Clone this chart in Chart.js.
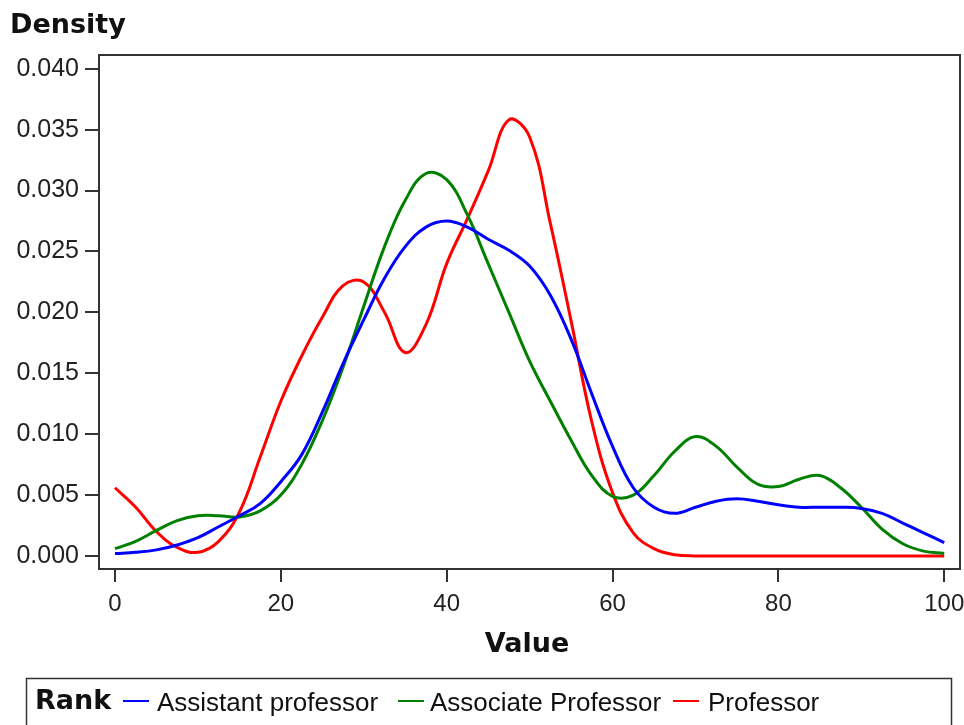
<!DOCTYPE html>
<html>
<head>
<meta charset="utf-8">
<script src="https://cdn.jsdelivr.net/npm/chart.js@4.4.0/dist/chart.umd.min.js"></script>
<style>
  html, body { margin: 0; padding: 0; background: #fff; }
  #wrap { width: 964px; height: 725px; }
</style>
</head>
<body>
<div id="wrap"><canvas id="c" width="964" height="725"></canvas></div>
<script>
// density curves, one value per x step of 2.5
const xValues = [0, 2.5, 5, 7.5, 10, 12.5, 15, 17.5, 20, 22.5, 25, 27.5, 30, 32.5, 35, 37.5, 40,
  42.5, 45, 47.5, 50, 52.5, 55, 57.5, 60, 62.5, 65, 67.5, 70, 72.5, 75, 77.5, 80, 82.5, 85, 87.5,
  90, 92.5, 95, 97.5, 100];

const assistant = [0.0002, 0.0003, 0.0005, 0.0009, 0.0015, 0.0024, 0.0033, 0.0043, 0.0061, 0.0083,
  0.0118, 0.0158, 0.0194, 0.0228, 0.0254, 0.0270, 0.0275, 0.0270, 0.0260, 0.0251, 0.0238, 0.0214,
  0.0178, 0.0133, 0.0090, 0.0056, 0.0040, 0.0035, 0.0040, 0.0045, 0.0047, 0.0045, 0.0042, 0.0040,
  0.0040, 0.0040, 0.0039, 0.0035, 0.0027, 0.0019, 0.0011];

const associate = [0.0006, 0.0012, 0.0021, 0.0029, 0.0033, 0.0033, 0.0032, 0.0037, 0.0050, 0.0075,
  0.0111, 0.0155, 0.0205, 0.0254, 0.0292, 0.0314, 0.0309, 0.0280, 0.0240, 0.0200, 0.0160, 0.0127,
  0.0095, 0.0066, 0.0049, 0.0050, 0.0066, 0.0086, 0.0098, 0.0090, 0.0073, 0.0059, 0.0057, 0.0063,
  0.0066, 0.0056, 0.0040, 0.0022, 0.0010, 0.0004, 0.0002];

const professor = [0.0056, 0.0040, 0.0020, 0.0007, 0.0003, 0.0012, 0.0036, 0.0081, 0.0127, 0.0164,
  0.0196, 0.0222, 0.0225, 0.0200, 0.0167, 0.0190, 0.0240, 0.0277, 0.0316, 0.0358, 0.0344, 0.0273,
  0.0193, 0.0110, 0.0052, 0.0019, 0.0006, 0.0001, 0, 0, 0, 0, 0, 0, 0, 0, 0, 0, 0, 0, 0];

const seriesNames = ['Assistant professor', 'Associate Professor', 'Professor'];
const xTicks = [0, 20, 40, 60, 80, 100];
const yTicks = [0, 0.005, 0.010, 0.015, 0.020, 0.025, 0.030, 0.035, 0.040];

const toPoints = ys => xValues.map((x, i) => ({ x: x, y: ys[i] }));

// frame, axis titles and the inline "Rank" legend
const decorations = {
  id: 'decorations',
  afterDraw(chart) {
    const ctx = chart.ctx;
    const a = chart.chartArea;
    ctx.save();
    ctx.strokeStyle = '#333';
    ctx.lineWidth = 2;
    ctx.strokeRect(a.left, a.top, a.right - a.left, a.bottom - a.top);

    ctx.fillStyle = '#111';
    ctx.textBaseline = 'alphabetic';
    ctx.font = 'bold 27px "DejaVu Sans"';
    ctx.textAlign = 'left';
    ctx.fillText('Density', 10, 33);
    ctx.textAlign = 'center';
    ctx.fillText('Value', 527, 652);

    // legend box
    ctx.lineWidth = 1.5;
    ctx.strokeRect(26.5, 678.5, 925, 60);
    ctx.textAlign = 'left';
    ctx.fillText('Rank', 35, 709);
    const lineX = [123, 398, 673];
    const textX = [157, 430, 708];
    ctx.font = '26px "Liberation Sans"';
    chart.data.datasets.forEach((ds, i) => {
      ctx.strokeStyle = ds.borderColor;
      ctx.lineWidth = 2;
      ctx.beginPath();
      ctx.moveTo(lineX[i], 701);
      ctx.lineTo(lineX[i] + 26, 701);
      ctx.stroke();
      ctx.fillStyle = '#111';
      ctx.fillText(ds.label, textX[i], 711);
    });
    ctx.restore();
  }
};

new Chart(document.getElementById('c'), {
  type: 'line',
  data: {
    datasets: [
      { label: seriesNames[0], data: toPoints(assistant), borderColor: '#0000ff' },
      { label: seriesNames[1], data: toPoints(associate), borderColor: '#008000' },
      { label: seriesNames[2], data: toPoints(professor), borderColor: '#ff0000' }
    ]
  },
  options: {
    responsive: false,
    animation: false,
    layout: { padding: { top: 55, right: 4, bottom: 56, left: 0 } },
    elements: {
      line: { borderWidth: 3, tension: 0.4, fill: false },
      point: { radius: 0 }
    },
    plugins: {
      legend: { display: false },
      title: { display: false },
      tooltip: { enabled: false }
    },
    scales: {
      x: {
        type: 'linear',
        min: -1.93,
        max: 101.9,
        afterBuildTicks: s => { s.ticks = xTicks.map(v => ({ value: v })); },
        afterFit: s => { s.height = 100; s.paddingLeft = 0; s.paddingRight = 0; },
        grid: { drawOnChartArea: false, tickLength: 13, color: '#333', lineWidth: 2 },
        border: { display: false },
        ticks: { color: '#222', font: { family: 'Liberation Sans', size: 24 }, padding: 8, maxRotation: 0 }
      },
      y: {
        min: -0.00107,
        max: 0.04113,
        afterBuildTicks: s => { s.ticks = yTicks.map(v => ({ value: v })); },
        afterFit: s => { s.width = 99; s.paddingTop = 0; s.paddingBottom = 0; },
        grid: { drawOnChartArea: false, tickLength: 14, color: '#333', lineWidth: 2 },
        border: { display: false },
        ticks: {
          color: '#222',
          font: { family: 'Liberation Sans', size: 25 },
          padding: 6,
          callback: v => v.toFixed(3)
        }
      }
    }
  },
  plugins: [decorations]
});
</script>
</body>
</html>
